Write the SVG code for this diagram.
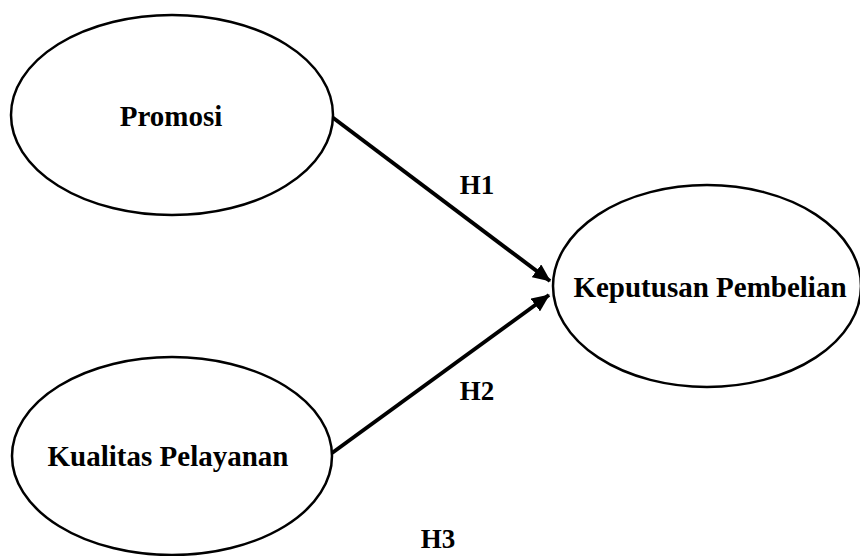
<svg xmlns="http://www.w3.org/2000/svg" width="860" height="556" viewBox="0 0 860 556">
<style>
.node{fill:#fff;stroke:#000;stroke-width:2.5}
.lbl{font-family:"Liberation Serif","Times New Roman",serif;font-weight:bold;font-size:29px;fill:#000;text-anchor:middle}
.hl{font-family:"Liberation Serif","Times New Roman",serif;font-weight:bold;font-size:27px;fill:#000;text-anchor:middle}
.edge{stroke:#000;stroke-width:4;fill:none}
</style>
<defs>
<marker id="ah" markerUnits="userSpaceOnUse" markerWidth="18" markerHeight="16" refX="17" refY="8" orient="auto">
<path d="M0,0 L18,8 L0,16 Z" fill="#000"/>
</marker>
</defs>
<rect width="860" height="556" fill="#fff"/>
<g id="connectors">
<line class="edge" x1="332" y1="117" x2="550" y2="281" marker-end="url(#ah)"/>
<line class="edge" x1="332" y1="453" x2="549" y2="295" marker-end="url(#ah)"/>
<text class="hl" x="477" y="194">H1</text>
<text class="hl" x="477" y="400">H2</text>
<text class="hl" x="438" y="548">H3</text>
</g>
<g id="promosi">
<ellipse class="node" cx="172" cy="115" rx="161" ry="100"/>
<text class="lbl" x="171" y="126">Promosi</text>
</g>
<g id="kualitas">
<ellipse class="node" cx="172" cy="456" rx="160" ry="99"/>
<text class="lbl" x="168" y="466">Kualitas Pelayanan</text>
</g>
<g id="keputusan">
<ellipse class="node" cx="707" cy="286" rx="154" ry="101"/>
<text class="lbl" x="710" y="297">Keputusan Pembelian</text>
</g>
</svg>
